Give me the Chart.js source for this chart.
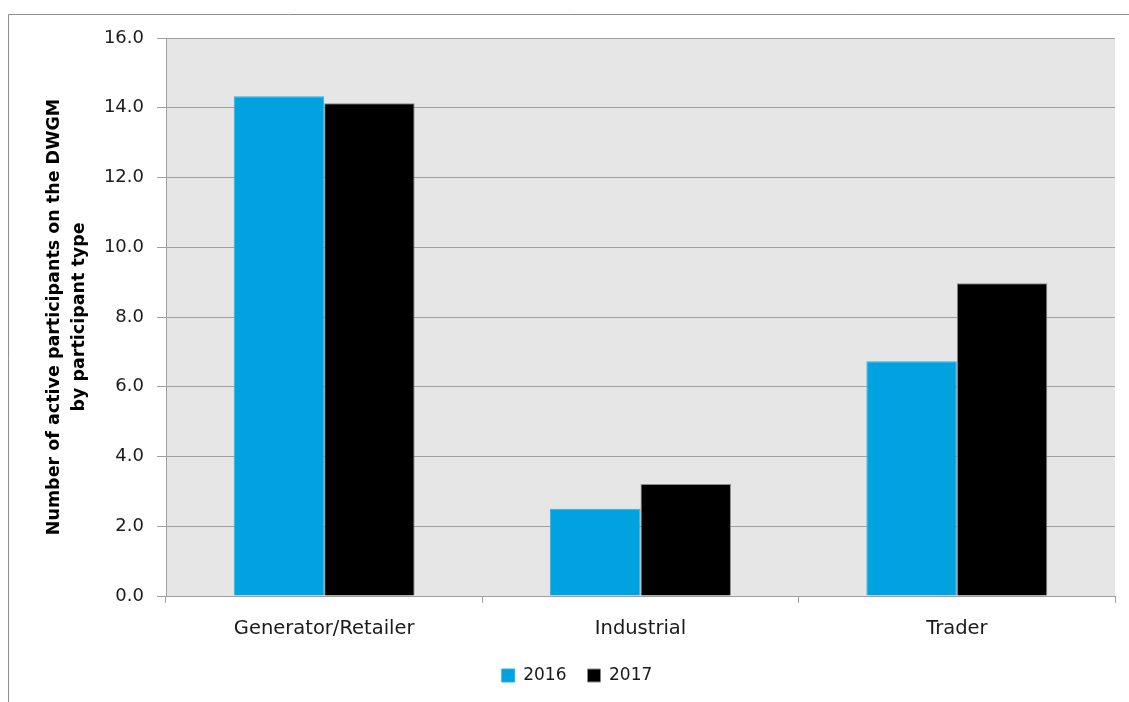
<!DOCTYPE html>
<html>
<head>
<meta charset="utf-8">
<script src="https://cdn.jsdelivr.net/npm/chart.js@4.4.1/dist/chart.umd.min.js"></script>
<style>
  html, body { margin: 0; padding: 0; background: #ffffff; }
  #wrap { width: 1129px; height: 702px; }
</style>
</head>
<body>
<div id="wrap"><canvas id="chart" width="1129" height="702"></canvas></div>
<script>
// Participant types on the x axis
const categories = ['Generator/Retailer', 'Industrial', 'Trader'];
// Average number of active participants per type
const values2016 = [14.33, 2.50, 6.73];
const values2017 = [14.13, 3.21, 8.97];
const seriesNames = ['2016', '2017'];
const yTitle = ['Number of active participants on the DWGM', 'by participant type'];

// Grey plot background and the outer frame lines
const backdrop = {
  id: 'backdrop',
  beforeDraw(chart) {
    const { ctx, chartArea: a } = chart;
    ctx.save();
    ctx.fillStyle = '#e6e6e6';
    ctx.fillRect(a.left, a.top, a.right - a.left, a.bottom - a.top);
    ctx.strokeStyle = '#8f8f8f';
    ctx.lineWidth = 1;
    ctx.beginPath();
    ctx.moveTo(8.5, 702);
    ctx.lineTo(8.5, 14.5);
    ctx.lineTo(1129, 14.5);
    ctx.stroke();
    ctx.restore();
  }
};

const textFont = 'DejaVu Sans, Verdana, sans-serif';

new Chart(document.getElementById('chart'), {
  type: 'bar',
  data: {
    labels: categories,
    datasets: [
      {
        label: seriesNames[0],
        data: values2016,
        backgroundColor: '#00a3e0',
        borderColor: '#2fb1e5',
        borderWidth: 1
      },
      {
        label: seriesNames[1],
        data: values2017,
        backgroundColor: '#000000',
        borderColor: '#8a8a8a',
        borderWidth: 1
      }
    ]
  },
  options: {
    responsive: false,
    animation: false,
    events: [],
    layout: { padding: { left: 39, right: 14, top: 38, bottom: 8 } },
    datasets: {
      bar: { categoryPercentage: 0.572, barPercentage: 1.0 }
    },
    plugins: {
      legend: {
        position: 'bottom',
        labels: {
          boxWidth: 13,
          boxHeight: 13,
          padding: 21,
          color: '#1a1a1a',
          font: { family: textFont, size: 17 }
        }
      },
      title: { display: false },
      tooltip: { enabled: false }
    },
    scales: {
      x: {
        afterFit(scale) { scale.height = 50; },
        grid: {
          display: true,
          drawOnChartArea: false,
          drawTicks: true,
          tickLength: 7,
          color: '#a0a0a0',
          offset: true
        },
        border: { display: true, color: '#a0a0a0', width: 1 },
        ticks: {
          color: '#1a1a1a',
          padding: 14,
          font: { family: textFont, size: 19.5 }
        }
      },
      y: {
        min: 0,
        max: 16,
        afterFit(scale) { scale.width = 127; },
        grid: {
          color: '#a0a0a0',
          lineWidth: 1,
          drawTicks: true,
          tickLength: 9
        },
        border: { display: true, color: '#a0a0a0', width: 1 },
        ticks: {
          stepSize: 2,
          padding: 13,
          color: '#1a1a1a',
          font: { family: textFont, size: 18 },
          callback: (v) => Number(v).toFixed(1)
        },
        title: {
          display: true,
          text: yTitle,
          color: '#000000',
          padding: { top: 2.5, bottom: 0 },
          font: { family: textFont, size: 17.5, weight: 'bold', lineHeight: 1.43 }
        }
      }
    }
  },
  plugins: [backdrop]
});
</script>
</body>
</html>
